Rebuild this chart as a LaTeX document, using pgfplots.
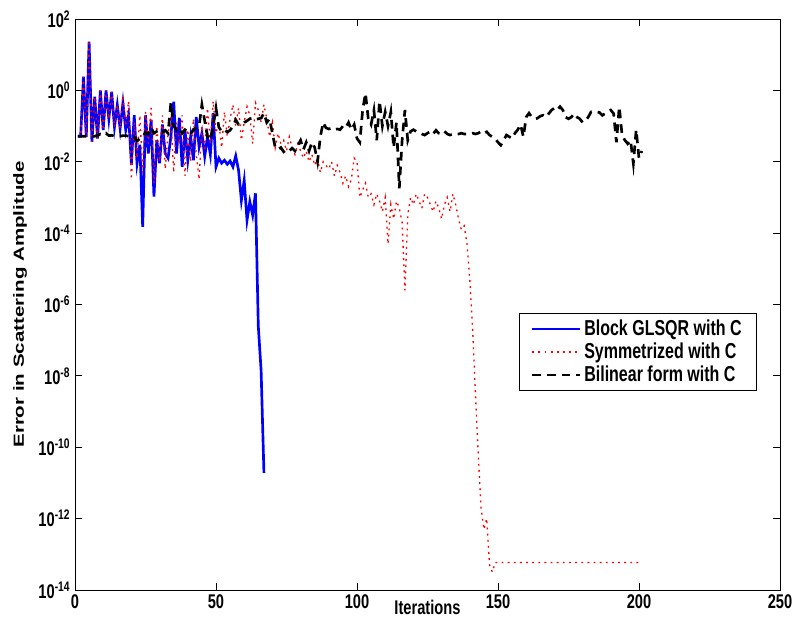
\documentclass[border=0pt]{standalone}
\usepackage{fontspec}
\setmainfont{Liberation Sans}
\usepackage{graphicx}
\usepackage{pgfplots}
\pgfplotsset{compat=1.18}
\newcommand{\st}[1]{\scalebox{1}[1.35]{#1}}
\begin{document}
\begin{tikzpicture}
\begin{axis}[
  scale only axis,
  width=528.75pt, height=428.25pt,
  xmin=0, xmax=250, ymin=1e-14, ymax=1e2,
  ymode=log,
  axis line style={line width=0.6pt},
  every tick/.style={black, line width=0.6pt},
  major tick length=5pt,
  minor tick num=0,
  xtick={0,50,100,150,200,250},
  xticklabels={\st{0},\st{50},\st{100},\st{150},\st{200},\st{250}},
  ytick={1e-14,1e-12,1e-10,1e-8,1e-6,1e-4,1e-2,1,1e2},
  yticklabels={\st{10\textsuperscript{-14}},\st{10\textsuperscript{-12}},\st{10\textsuperscript{-10}},\st{10\textsuperscript{-8}},\st{10\textsuperscript{-6}},\st{10\textsuperscript{-4}},\st{10\textsuperscript{-2}},\st{10\textsuperscript{0}},\st{10\textsuperscript{2}}},
  yminorticks=false,
  tick label style={font=\fontsize{11}{13}\selectfont\bfseries},
  label style={font=\fontsize{11}{13}\selectfont\bfseries},
  xlabel={\st{Iterations}},
  ylabel={\scalebox{1.4}[1]{Error in Scattering Amplitude}},
  xlabel style={at={(axis description cs:0.5,-0.0298)}, anchor=center},
  ylabel style={at={(axis description cs:-0.078,0.5)}, anchor=center},
  legend style={at={(0.967,0.485)}, anchor=north east, draw=black, line width=0.6pt,
    font=\fontsize{12}{14}\selectfont\bfseries, cells={anchor=west},
    inner xsep=9pt, inner ysep=3pt, row sep=0pt},
  legend image code/.code={\draw[#1] (0pt,0pt) -- (36pt,0pt);},
]
\addplot[blue, line width=2pt] table {
1 5.2e-2
2 5.2e-2
3 2.4
4 5.0e-2
5 23
6 3.6e-2
7 0.66
8 4.5e-2
9 1.0
10 7.8e-2
11 1.0
12 0.16
13 0.91
14 9.5e-2
15 0.39
16 8.5e-2
17 0.44
18 7.8e-2
19 0.20
20 8.9e-3
21 0.20
22 8.9e-3
23 3.0e-2
24 1.5e-4
25 0.20
26 1.7e-2
27 0.15
28 1.05e-3
29 4.1e-2
30 9.1e-3
31 0.11
32 1.7e-2
33 1.26e-2
34 5.0e-2
35 0.48
36 1.7e-2
37 0.17
38 7.2e-3
39 7.8e-2
40 1.1e-2
41 5.0e-2
42 1.1e-2
43 0.18
44 2.6e-2
45 6.3e-2
46 1.4e-2
47 5.0e-2
48 1.6e-2
49 0.23
50 7.2e-3
51 1.26e-2
52 9.1e-3
53 1.1e-2
54 8.5e-3
55 1.05e-2
56 7.2e-3
57 1.45e-2
58 5.8e-3
59 8.3e-4
60 3.0e-3
61 2.3e-4
62 7.6e-4
63 3.2e-4
64 1.3e-3
65 2.5e-7
66 1.4e-8
67 1.9e-11
};
\addlegendentry{\st{Block GLSQR with C}}
\addplot[red, line width=1pt, dash pattern=on 1.4pt off 3.2pt] table {
1 5.2e-2
2 5.2e-2
3 2.4
4 5.0e-2
5 25
6 3.6e-2
7 0.66
8 4.5e-2
9 1.0
10 7.8e-2
11 1.0
12 0.16
13 0.91
14 9.5e-2
15 0.39
16 8.5e-2
17 0.71
18 0.1
19 0.5
20 3.2e-3
21 0.126
22 1.26e-2
23 0.2
24 5.0e-3
25 0.25
26 3.2e-2
27 0.32
28 2.5e-3
29 0.1
30 1.0e-2
31 0.2
32 6.3e-3
33 6.3e-2
34 0.16
35 5.0e-3
36 0.126
37 3.2e-2
38 0.2
39 4.0e-3
40 7.9e-2
41 1.0e-2
42 0.16
43 1.6e-2
44 3.2e-3
45 0.1
46 2.0e-2
47 0.32
48 3.2e-2
49 0.5
50 6.3e-2
51 0.126
52 2.5e-2
53 0.25
54 5.0e-2
55 0.16
56 0.4
57 0.1
58 0.32
59 4.0e-2
60 0.126
61 0.35
62 0.2
63 3.2e-2
64 0.45
65 0.28
66 0.126
67 0.4
68 0.16
69 5.0e-2
70 0.126
71 2.5e-2
72 6.3e-2
73 3.2e-2
74 4.0e-2
75 2.0e-2
76 5.0e-2
77 2.5e-2
78 1.6e-2
79 3.2e-2
80 2.0e-2
81 1.26e-2
82 2.0e-2
83 1.0e-2
84 1.6e-2
85 7.9e-3
86 1.26e-2
87 5.0e-3
88 1.0e-2
89 7.9e-3
90 6.3e-3
91 1.0e-2
92 4.0e-3
93 7.9e-3
94 5.0e-3
95 2.5e-3
96 4.0e-3
97 2.0e-3
98 3.2e-3
99 1.26e-2
100 1.0e-2
101 1.0e-3
102 1.6e-3
103 2.5e-3
104 1.0e-3
105 1.26e-3
106 6.3e-4
107 1.26e-3
108 7.9e-4
109 4.0e-4
110 1.0e-3
111 5.0e-5
112 6.3e-4
113 2.5e-4
114 7.9e-4
115 5.0e-4
116 2.0e-4
117 2.5e-6
118 3.2e-4
119 1.0e-3
120 6.3e-4
121 1.26e-3
122 7.9e-4
123 5.0e-4
124 1.26e-3
125 1.0e-3
126 6.3e-4
127 4.0e-4
128 7.9e-4
129 5.0e-4
130 2.5e-4
131 6.3e-4
132 1.0e-3
133 4.0e-4
134 1.26e-3
135 6.3e-4
136 2.5e-4
137 1.26e-4
138 1.6e-4
139 5.0e-5
140 5.0e-6
141 2.0e-7
142 3.2e-9
143 6.3e-11
144 2.0e-12
145 5.0e-13
146 1.0e-12
147 5.0e-14
148 3.2e-14
149 5.9e-14
200 5.9e-14
};
\addlegendentry{\st{Symmetrized with C}}
\addplot[black, line width=2pt, dash pattern=on 6.5pt off 4.5pt] table {
1 5.2e-2
2 5.2e-2
3 5.2e-2
4 5.2e-2
5 5.2e-2
6 5.2e-2
7 5.2e-2
8 5.5e-2
9 6.0e-2
10 5.6e-2
11 6.3e-2
12 5.4e-2
13 5.5e-2
14 5.2e-2
15 5.2e-2
16 5.2e-2
17 5.4e-2
18 5.4e-2
19 5.2e-2
20 5.4e-2
21 5.0e-2
22 3.8e-2
23 4.5e-2
24 5.0e-2
25 6.6e-2
26 6.0e-2
27 8.9e-2
28 6.3e-2
29 7.1e-2
30 7.9e-2
31 6.6e-2
32 7.6e-2
33 6.3e-2
34 0.45
35 0.1
36 7.9e-2
37 8.9e-2
38 6.3e-2
39 7.9e-2
40 7.1e-2
41 6.0e-2
42 7.9e-2
43 8.9e-2
44 0.1
45 0.4
46 0.14
47 5.0e-2
48 4.0e-2
49 0.1
50 0.32
51 9.3e-2
52 7.1e-2
53 7.9e-2
54 6.8e-2
55 7.6e-2
56 0.1
57 0.15
58 0.11
59 0.11
60 0.126
61 0.14
62 0.16
63 0.166
64 0.15
65 0.16
66 0.166
67 0.23
68 0.126
69 0.16
70 6.3e-2
71 2.5e-2
72 2.2e-2
73 2.5e-2
74 1.9e-2
75 2.2e-2
76 2.0e-2
77 2.4e-2
78 2.0e-2
79 2.8e-2
80 4.0e-2
81 2.2e-2
82 3.5e-2
83 2.0e-2
84 3.5e-2
85 2.5e-2
86 1.0e-2
87 5.0e-2
88 0.126
89 8.9e-2
90 8.3e-2
91 8.7e-2
92 7.9e-2
93 8.3e-2
94 7.9e-2
95 0.1
96 8.9e-2
97 0.126
98 7.9e-2
99 0.11
100 4.5e-2
101 3.5e-2
102 0.28
103 0.83
104 0.16
105 0.11
106 0.28
107 4.0e-2
108 0.5
109 0.1
110 0.25
111 0.1
112 0.25
113 2.5e-2
114 0.126
115 1.8e-3
116 4.0e-2
117 0.28
118 4.0e-2
119 7.1e-2
120 7.9e-2
121 7.1e-2
122 6.6e-2
123 6.0e-2
124 5.6e-2
125 6.3e-2
126 7.1e-2
127 6.0e-2
128 7.6e-2
129 6.3e-2
130 6.0e-2
131 7.1e-2
132 6.0e-2
133 5.6e-2
134 6.0e-2
135 5.9e-2
136 6.0e-2
137 6.3e-2
138 6.0e-2
139 6.0e-2
140 6.0e-2
141 6.3e-2
142 6.0e-2
143 6.3e-2
144 7.1e-2
145 6.3e-2
146 6.9e-2
147 5.6e-2
148 5.0e-2
149 4.5e-2
150 3.5e-2
151 2.9e-2
152 4.0e-2
153 5.6e-2
154 5.0e-2
155 4.5e-2
156 6.3e-2
157 7.9e-2
158 0.11
159 5.0e-2
160 0.178
161 0.23
162 0.178
163 0.16
164 0.166
165 0.19
166 0.2
167 0.178
168 0.224
169 0.28
170 0.32
171 0.28
172 0.35
173 0.28
174 0.178
175 0.16
176 0.178
177 0.224
178 0.178
179 0.16
180 0.126
181 0.141
182 0.178
183 0.25
184 0.26
185 0.25
186 0.24
187 0.2
188 0.224
189 0.25
190 0.28
191 0.224
192 3.5e-2
193 0.35
194 5.6e-2
195 4.0e-2
196 3.2e-2
197 4.0e-2
198 8.9e-3
199 7.9e-2
200 1.26e-2
201 2.0e-2
};
\addlegendentry{\st{Bilinear form with C}}
\end{axis}
\pgfresetboundingbox
\path ([xshift=-56.25pt,yshift=-22.5pt]current axis.south west) rectangle ++(595.5pt,465pt);
\end{tikzpicture}
\end{document}
